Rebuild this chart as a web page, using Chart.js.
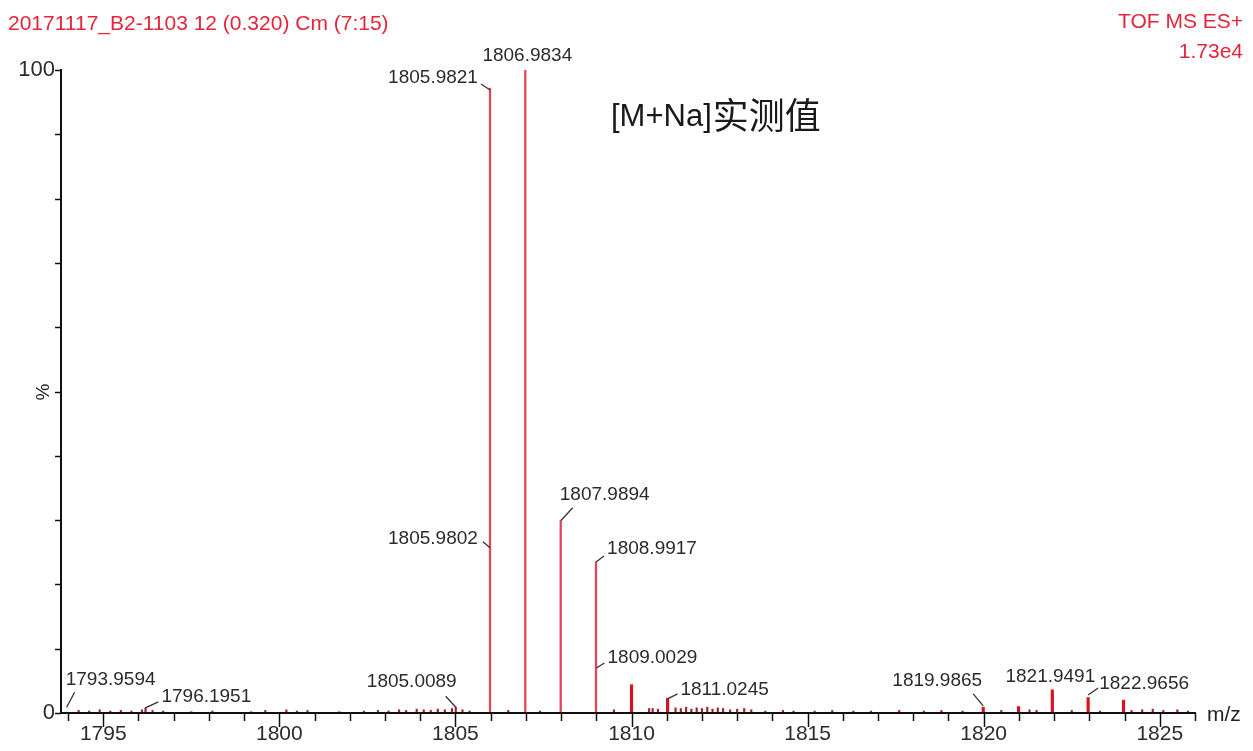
<!DOCTYPE html>
<html>
<head>
<meta charset="utf-8">
<script src="https://cdn.jsdelivr.net/npm/chart.js@4.4.1/dist/chart.umd.min.js"></script>
<style>
  html, body { margin: 0; padding: 0; background: #fff; overflow: hidden; }
</style>
</head>
<body>
<canvas id="ms" width="1253" height="751"></canvas>
<script>
// m/z range and relative intensity (%)
const mzMin = 1793.8;
const mzMax = 1826.0;
const xTickLabels = [1795, 1800, 1805, 1810, 1815, 1820, 1825];
const yTickLabels = [0, 100];

// main isotope sticks
const mainMz  = [1805.9821, 1806.9834, 1807.9894, 1808.9917];
const mainPct = [97.2, 100, 29.9, 23.5];

// smaller resolved peaks
const minorMz  = [1810.0, 1811.0245, 1819.9865, 1820.99, 1821.9491, 1822.9656, 1823.97];
const minorPct = [4.4, 2.3, 0.9, 1.0, 3.6, 2.4, 2.0];

// baseline noise
const noiseMz = [
  1794.3, 1794.6, 1794.9, 1795.2, 1795.5, 1795.8, 1796.1, 1796.2, 1796.4, 1796.7,
  1797.5, 1798.1, 1799.2, 1799.6, 1800.2, 1800.5, 1800.8, 1801.7, 1802.4, 1802.8,
  1803.1, 1803.4, 1803.6, 1803.9, 1804.1, 1804.3, 1804.5, 1804.7, 1804.9, 1805.01,
  1805.2, 1805.4, 1806.5, 1807.4, 1809.5, 1810.5, 1810.6, 1810.75, 1811.25, 1811.4,
  1811.55, 1811.7, 1811.85, 1812.0, 1812.15, 1812.3, 1812.45, 1812.6, 1812.8, 1813.0,
  1813.2, 1813.4, 1813.8, 1814.3, 1814.6, 1815.2, 1815.7, 1816.3, 1816.8, 1817.6,
  1818.3, 1818.8, 1819.4, 1820.5, 1821.3, 1821.5, 1822.5, 1823.3, 1824.2, 1824.5,
  1824.8, 1825.1, 1825.5, 1825.8
];
const noisePct = [
  0.4, 0.3, 0.5, 0.3, 0.4, 0.3, 0.5, 0.8, 0.4, 0.3,
  0.2, 0.3, 0.2, 0.4, 0.5, 0.3, 0.4, 0.2, 0.3, 0.4,
  0.3, 0.5, 0.4, 0.6, 0.5, 0.4, 0.6, 0.5, 0.7, 0.9,
  0.5, 0.3, 0.4, 0.3, 0.5, 0.7, 0.7, 0.6, 0.8, 0.7,
  0.9, 0.6, 0.8, 0.7, 0.9, 0.6, 0.8, 0.7, 0.5, 0.6,
  0.7, 0.5, 0.3, 0.4, 0.3, 0.3, 0.4, 0.3, 0.3, 0.4,
  0.3, 0.4, 0.3, 0.4, 0.5, 0.4, 0.4, 0.3, 0.4, 0.5,
  0.6, 0.4, 0.5, 0.3
];

// peak annotations: text, anchor m/z, anchor intensity
const labelText = ['1793.9594', '1796.1951', '1805.0089', '1805.9802', '1805.9821', '1806.9834',
  '1807.9894', '1808.9917', '1809.0029', '1811.0245', '1819.9865', '1821.9491', '1822.9656'];
const labelMz = [1793.9594, 1796.1951, 1805.0089, 1805.9802, 1805.9821, 1806.9834,
  1807.9894, 1808.9917, 1809.0029, 1811.0245, 1819.9865, 1821.9491, 1822.9656];
const labelPct = [0.9, 0.8, 0.9, 25.7, 96.9, 100, 29.9, 23.5, 7.0, 2.2, 1.1, 3.6, 2.8];

// layout: text centre offset and leader start offset (px) relative to the anchor
const labelLayout = [
  [44, -27, 8, -15], [61, -11, 13, -6], [-44, -25, -10, -11], [-57, -9, -7, -6],
  [-57, -12, -9, -6], [2, -14, null, null], [44, -26, 12, -13], [56, -13, 8, -6],
  [56, -10, 8, -5], [57, -9, 10, -5], [-46, -25, -10, -12], [-2, -13, null, null],
  [56, -11, 10, -7]
];

const toPoints = (xs, ys) => xs.map((v, i) => ({ x: v, y: ys[i] }));

const msDecor = {
  id: 'msDecor',
  afterDraw(chart) {
    const { ctx, scales: { x, y }, chartArea } = chart;
    ctx.save();
    ctx.strokeStyle = '#111';
    ctx.lineWidth = 1.5;
    // x tick marks
    for (let v = Math.ceil(mzMin); v <= Math.floor(mzMax); v++) {
      const px = Math.round(x.getPixelForValue(v)) + 0.5;
      const len = v % 5 === 0 ? 14 : 8;
      ctx.beginPath();
      ctx.moveTo(px, chartArea.bottom);
      ctx.lineTo(px, chartArea.bottom + len);
      ctx.stroke();
    }
    // y tick marks
    for (let v = 0; v <= 100; v += 10) {
      const py = Math.round(y.getPixelForValue(v)) + 0.5;
      ctx.beginPath();
      ctx.moveTo(chartArea.left - 6, py);
      ctx.lineTo(chartArea.left, py);
      ctx.stroke();
    }

    // peak labels and leaders
    ctx.font = "19px 'Liberation Sans', Arial, sans-serif";
    ctx.fillStyle = '#2b2b2b';
    ctx.textAlign = 'center';
    ctx.textBaseline = 'middle';
    ctx.lineWidth = 1.3;
    ctx.strokeStyle = '#333';
    labelText.forEach((t, i) => {
      const ax = x.getPixelForValue(labelMz[i]);
      const ay = y.getPixelForValue(labelPct[i]);
      const [tx, ty, lx, ly] = labelLayout[i];
      ctx.fillText(t, ax + tx, ay + ty);
      if (lx !== null) {
        ctx.beginPath();
        ctx.moveTo(ax + lx, ay + ly);
        ctx.lineTo(ax, ay);
        ctx.stroke();
      }
    });

    // axis titles
    ctx.fillStyle = '#222';
    ctx.textAlign = 'left';
    ctx.font = "21px 'Liberation Sans', Arial, sans-serif";
    ctx.fillText('m/z', chartArea.right + 12, chartArea.bottom + 2);
    ctx.save();
    ctx.translate(44, 392);
    ctx.rotate(-Math.PI / 2);
    ctx.textAlign = 'center';
    ctx.font = "19px 'Liberation Sans', Arial, sans-serif";
    ctx.fillText('%', 0, 0);
    ctx.restore();

    // header
    ctx.fillStyle = '#e3263c';
    ctx.font = "21px 'Liberation Sans', Arial, sans-serif";
    ctx.textAlign = 'left';
    ctx.fillText('20171117_B2-1103 12 (0.320) Cm (7:15)', 8, 24);
    ctx.textAlign = 'right';
    ctx.fillText('TOF MS ES+', 1243, 22);
    ctx.fillText('1.73e4', 1243, 52);

    // annotation
    ctx.fillStyle = '#1a1a1a';
    ctx.textAlign = 'left';
    ctx.font = "31px 'Liberation Sans', 'Noto Sans CJK SC', sans-serif";
    ctx.fillText('[M+Na]', 611, 117);
    const w = ctx.measureText('[M+Na]').width;
    ctx.font = "36px 'Noto Sans CJK SC', sans-serif";
    ctx.fillText('实测值', 611 + w + 1, 115);
    ctx.restore();
  }
};

new Chart(document.getElementById('ms'), {
  type: 'bar',
  data: {
    datasets: [
      {
        data: toPoints(noiseMz, noisePct),
        backgroundColor: '#a3232a',
        barThickness: 1.5,
        grouped: false
      },
      {
        data: toPoints(minorMz, minorPct),
        backgroundColor: '#dc1020',
        barThickness: 2.5,
        grouped: false
      },
      {
        data: toPoints(mainMz, mainPct),
        backgroundColor: '#e24556',
        barThickness: 1.6,
        grouped: false
      }
    ]
  },
  plugins: [msDecor],
  options: {
    responsive: false,
    devicePixelRatio: 1,
    animation: false,
    layout: { padding: { left: 0, top: 70, right: 58, bottom: 0 } },
    plugins: {
      legend: { display: false },
      tooltip: { enabled: false }
    },
    scales: {
      x: {
        type: 'linear',
        min: mzMin,
        max: mzMax,
        offset: false,
        grid: { display: false, offset: false, tickLength: 0 },
        border: { display: true, color: '#111', width: 2, z: 1 },
        afterFit: (s) => { s.height = 38; },
        ticks: {
          stepSize: 1,
          autoSkip: false,
          includeBounds: false,
          maxRotation: 0,
          padding: 9,
          color: '#2b2b2b',
          font: { family: "'Liberation Sans', Arial, sans-serif", size: 21 },
          callback: (v) => xTickLabels.includes(Math.round(v)) && Math.abs(v - Math.round(v)) < 1e-6 ? String(Math.round(v)) : ''
        }
      },
      y: {
        min: 0,
        max: 100,
        grid: { display: false, tickLength: 0 },
        border: { display: true, color: '#111', width: 2, z: 1 },
        afterFit: (s) => { s.width = 61; },
        ticks: {
          stepSize: 10,
          autoSkip: false,
          padding: 6,
          color: '#2b2b2b',
          font: { family: "'Liberation Sans', Arial, sans-serif", size: 22 },
          callback: (v) => yTickLabels.includes(v) ? String(v) : ''
        }
      }
    }
  }
});
</script>
</body>
</html>
